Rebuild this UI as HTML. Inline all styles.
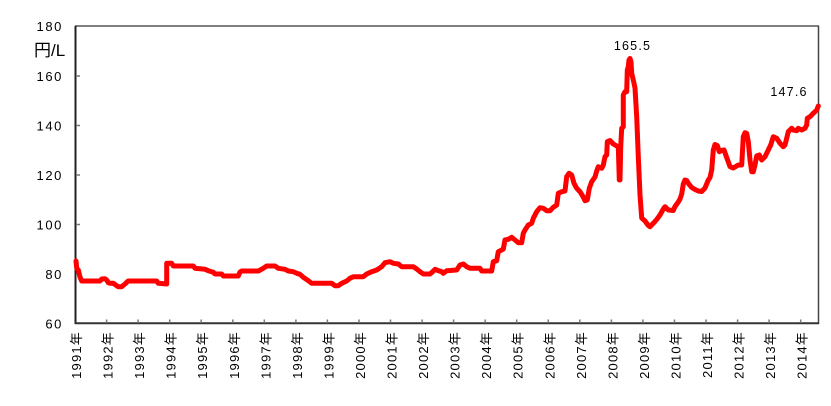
<!DOCTYPE html>
<html>
<head>
<meta charset="utf-8">
<style>
html,body{margin:0;padding:0;background:#fff;}
svg{display:block;}
text{font-family:"Liberation Sans","Noto Sans CJK JP",sans-serif;fill:#000;}
</style>
</head>
<body>
<svg width="831" height="406" viewBox="0 0 831 406" xmlns="http://www.w3.org/2000/svg">
<rect x="0" y="0" width="831" height="406" fill="#fff"/>
<!-- frame -->
<line x1="75" y1="26" x2="819" y2="26" stroke="#000" stroke-width="1"/>
<line x1="818.5" y1="26" x2="818.5" y2="324" stroke="#444" stroke-width="1.5"/>
<line x1="75.5" y1="26" x2="75.5" y2="324" stroke="#222" stroke-width="2"/>
<line x1="75" y1="323.3" x2="819" y2="323.3" stroke="#333" stroke-width="2"/>
<!-- y ticks -->
<g stroke="#777" stroke-width="1.5">
<line x1="76" y1="76" x2="80" y2="76"/>
<line x1="76" y1="125.5" x2="80" y2="125.5"/>
<line x1="76" y1="175" x2="80" y2="175"/>
<line x1="76" y1="224.5" x2="80" y2="224.5"/>
<line x1="76" y1="274" x2="80" y2="274"/>
</g>
<!-- x ticks -->
<g stroke="#777" stroke-width="1.5">
<line x1="106.6" y1="319.5" x2="106.6" y2="323"/>
<line x1="138.1" y1="319.5" x2="138.1" y2="323"/>
<line x1="169.7" y1="319.5" x2="169.7" y2="323"/>
<line x1="201.2" y1="319.5" x2="201.2" y2="323"/>
<line x1="232.8" y1="319.5" x2="232.8" y2="323"/>
<line x1="264.3" y1="319.5" x2="264.3" y2="323"/>
<line x1="295.9" y1="319.5" x2="295.9" y2="323"/>
<line x1="327.4" y1="319.5" x2="327.4" y2="323"/>
<line x1="359.0" y1="319.5" x2="359.0" y2="323"/>
<line x1="390.5" y1="319.5" x2="390.5" y2="323"/>
<line x1="422.1" y1="319.5" x2="422.1" y2="323"/>
<line x1="453.6" y1="319.5" x2="453.6" y2="323"/>
<line x1="485.2" y1="319.5" x2="485.2" y2="323"/>
<line x1="516.7" y1="319.5" x2="516.7" y2="323"/>
<line x1="548.3" y1="319.5" x2="548.3" y2="323"/>
<line x1="579.8" y1="319.5" x2="579.8" y2="323"/>
<line x1="611.4" y1="319.5" x2="611.4" y2="323"/>
<line x1="642.9" y1="319.5" x2="642.9" y2="323"/>
<line x1="674.5" y1="319.5" x2="674.5" y2="323"/>
<line x1="706.0" y1="319.5" x2="706.0" y2="323"/>
<line x1="737.6" y1="319.5" x2="737.6" y2="323"/>
<line x1="769.1" y1="319.5" x2="769.1" y2="323"/>
<line x1="800.7" y1="319.5" x2="800.7" y2="323"/>
</g>
<!-- y labels -->
<g font-size="13" text-anchor="end" letter-spacing="1.6">
<text x="63" y="31">180</text>
<text x="63" y="81">160</text>
<text x="63" y="130.5">140</text>
<text x="63" y="180">120</text>
<text x="63" y="229.5">100</text>
<text x="63" y="279">80</text>
<text x="63" y="328.5">60</text>
</g>
<text x="34" y="56" font-size="17">円/L</text>
<!-- x labels -->
<g font-size="13" text-anchor="end" letter-spacing="1.2">
<text transform="translate(81,331) rotate(-90)">1991年</text>
<text transform="translate(112.6,331) rotate(-90)">1992年</text>
<text transform="translate(144.1,331) rotate(-90)">1993年</text>
<text transform="translate(175.7,331) rotate(-90)">1994年</text>
<text transform="translate(207.2,331) rotate(-90)">1995年</text>
<text transform="translate(238.8,331) rotate(-90)">1996年</text>
<text transform="translate(270.3,331) rotate(-90)">1997年</text>
<text transform="translate(301.9,331) rotate(-90)">1998年</text>
<text transform="translate(333.4,331) rotate(-90)">1999年</text>
<text transform="translate(365.0,331) rotate(-90)">2000年</text>
<text transform="translate(396.5,331) rotate(-90)">2001年</text>
<text transform="translate(428.1,331) rotate(-90)">2002年</text>
<text transform="translate(459.6,331) rotate(-90)">2003年</text>
<text transform="translate(491.2,331) rotate(-90)">2004年</text>
<text transform="translate(522.7,331) rotate(-90)">2005年</text>
<text transform="translate(554.3,331) rotate(-90)">2006年</text>
<text transform="translate(585.8,331) rotate(-90)">2007年</text>
<text transform="translate(617.4,331) rotate(-90)">2008年</text>
<text transform="translate(648.9,331) rotate(-90)">2009年</text>
<text transform="translate(680.5,331) rotate(-90)">2010年</text>
<text transform="translate(712.0,331) rotate(-90)">2011年</text>
<text transform="translate(743.6,331) rotate(-90)">2012年</text>
<text transform="translate(775.1,331) rotate(-90)">2013年</text>
<text transform="translate(806.7,331) rotate(-90)">2014年</text>
</g>
<!-- data annotations -->
<text x="632.5" y="50" font-size="12.5" text-anchor="middle" letter-spacing="1.2">165.5</text>
<text x="789" y="96" font-size="12.5" text-anchor="middle" letter-spacing="1.2">147.6</text>
<!-- series -->
<polyline fill="none" stroke="#ff0000" stroke-width="5" stroke-linejoin="round" stroke-linecap="round" points="
76,261 76.7,268 78.3,270 80,277 81.7,281 100,281 101.7,279 105,278.7 106.7,280 108.3,282.7 110,283.3 113.3,283.3 116.7,285.7 118.3,286.7 121.7,286.7 125,284 126.7,282.3 128.3,281 156.7,281 158.3,283.3 166.7,284 166.7,263.3 171.7,263.3 173.3,266 193.3,266 195,268.3 205,269.3 208.3,270.7 213.3,272.3 215,274 221.7,274 223.3,276 238.3,276 240,272 241.7,271 258.3,271
263.3,268.3 266.7,266 275,266 278.3,268.3 285,269.3 288.3,271 293.3,271.7 296.7,273.3 300,274.3 303.3,277.3 308.3,280.7 311.7,283.3 331.7,283.3 335,285.7 338.3,285.7 341.7,283.3 346.7,281 350,278.3 353.3,276.7 363.3,276.7 366.7,274 371.7,271.7 376.7,270 381.7,266.7 385,262.7 390,261.7 393.3,263.3 398.3,264 401.7,266.7 413.3,266.7 416.7,269 420,271.7 423.3,274 430,274 432.7,271.7 435,269.3 438.3,270.7 441.7,271.7 443.3,273.3 446.7,270.7 456.7,270 460,265 463.3,264 466.7,266.7 470,268.3 480,268.3 481.7,271 491.7,271 493.3,261.7 496.7,260.7 498.3,251.7 501.7,250 503.3,249 505,240 508.3,239.3 511.7,237.3 515,240 518.3,242.7 521.7,242.7 523.3,233.3 525,230 528.3,225 531.7,223.3 533.3,218.3 536.7,211.7 540,207.7 543.3,208.3 546.7,210.7 550,210.7 553.3,207.3 556.7,205 558.3,193.3 561.7,191.7 565,191 566.7,176.7 569,173.3 571.7,175 574,183.3 576.7,188.3 580,191.7 582.7,196 585,200.7 587.3,200 589.3,188.3 591.7,181.7 595,177 596.7,171 598.3,166.7 601.7,168.3 603.3,165 605,156.7 606.7,155 607.3,141.7 610,140.5 613.3,144 616.7,146 618.3,147 619.3,180 620,180 620.7,146.7 621.7,128.3 623.3,126.7 623.3,95 625,91.7 626.7,91.7 627.3,70 628.3,66.7 629,60 630,58.5 631,61.7 631.7,73.3 633.3,80 635,88 636.7,116.7 638.3,156.7 640,195 641.7,218 645,221 648.3,225.5 650,226.7 653.3,223.3 656.7,219.5 660,215 663.3,209 665,206.7 668.3,210 673.3,210.5 675,206.5 678.3,202 680,199 681.7,194 683.3,184 685,180 686.7,180.5 688.3,183.3 691.7,187.5 695,189.5 698.3,191 701.7,191.5 705,188 708.3,180 710,177.5 711.7,170 713.3,150 715,144.5 717.3,145.5 719.3,151.7 721.7,150.5 724,150 726.7,157.5 730,166.7 733.3,168 738.3,165 741.7,165 743.3,136.7 745,132.7 746.7,133.3 748.3,141.7 750,160 751.7,171.7 753.3,171.7 755,165 756.7,156 759.3,155 761.7,160 765,156.7 768.3,150 770.7,145 773.3,136.7 776.7,138.3 780,143.3 783.3,146.7 785,145 786.7,138.3 788.3,131.7 791.7,128.3 793.3,130 796.7,130.7 798.3,128.3 801.7,130 805,128.3 806.7,125 807.3,118.3 810,116.7 813.3,113.3 816.7,110 818.3,106"/>
</svg>
</body>
</html>
